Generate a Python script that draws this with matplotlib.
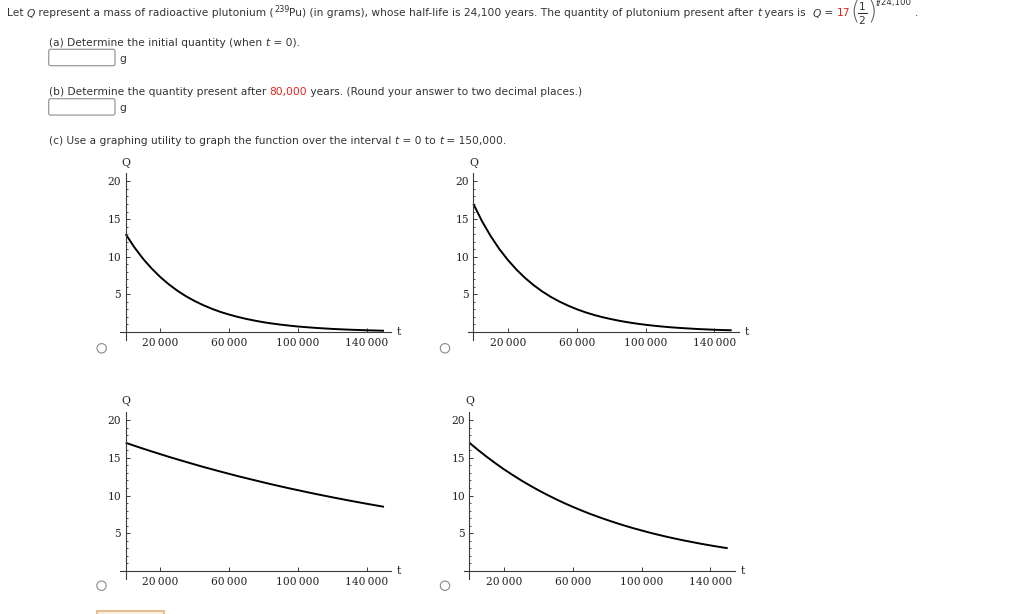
import matplotlib
matplotlib.use("Agg")
import matplotlib.pyplot as plt
from matplotlib.patches import Circle, FancyBboxPatch, Rectangle

# values
t_years = [0, 5000, 10000, 15000, 20000, 25000, 30000, 35000, 40000, 45000,
           50000, 55000, 60000, 65000, 70000, 75000, 80000, 85000, 90000, 95000,
           100000, 105000, 110000, 115000, 120000, 125000, 130000, 135000, 140000,
           145000, 150000]
q_choice_a = [13.0, 11.26, 9.75, 8.45, 7.32, 6.34, 5.49, 4.75, 4.12, 3.57,
              3.09, 2.67, 2.32, 2.01, 1.74, 1.51, 1.30, 1.13, 0.98, 0.85,
              0.73, 0.64, 0.55, 0.48, 0.41, 0.36, 0.31, 0.27, 0.23, 0.20, 0.17]
q_choice_b = [17.0, 14.72, 12.75, 11.04, 9.57, 8.29, 7.18, 6.22, 5.38, 4.66,
              4.04, 3.50, 3.03, 2.62, 2.27, 1.97, 1.71, 1.48, 1.28, 1.11,
              0.96, 0.83, 0.72, 0.62, 0.54, 0.47, 0.40, 0.35, 0.30, 0.26, 0.23]
q_choice_c = [17.0, 16.61, 16.23, 15.86, 15.50, 15.14, 14.80, 14.46, 14.13, 13.80,
              13.49, 13.18, 12.88, 12.58, 12.30, 12.02, 11.74, 11.47, 11.21, 10.95,
              10.71, 10.46, 10.22, 9.99, 9.76, 9.54, 9.32, 9.11, 8.90, 8.70, 8.50]
q_choice_d = [17.0, 16.05, 15.15, 14.30, 13.49, 12.74, 12.02, 11.35, 10.71, 10.11,
              9.54, 9.00, 8.50, 8.02, 7.57, 7.15, 6.75, 6.37, 6.01, 5.67,
              5.36, 5.05, 4.77, 4.50, 4.25, 4.01, 3.79, 3.57, 3.37, 3.18, 3.0]

x_ticks = [20000, 60000, 100000, 140000]
y_ticks = [5, 10, 15, 20]

TXT = "#333333"
RED = "#e2231a"
SIZE = 7.7

fig = plt.figure(figsize=(10.24, 6.14), dpi=100)
fig.patch.set_facecolor("white")

# page overlay in pixel coordinates
bg = fig.add_axes([0, 0, 1, 1], zorder=0)
bg.set_xlim(0, 1024)
bg.set_ylim(614, 0)
bg.axis("off")

renderer = fig.canvas.get_renderer()


def put_runs(x, y, parts, size=SIZE):
    for s, opts in parts:
        t = bg.text(x, y - opts.get("rise", 0), s, fontsize=opts.get("size", size),
                    color=opts.get("color", TXT), style=opts.get("style", "normal"),
                    ha="left", va="baseline", family="DejaVu Sans")
        x += t.get_window_extent(renderer).width
    return x


N = {}
I = {"style": "italic"}

x_end = put_runs(7, 16.5, [
    ("Let ", N), ("Q", I), (" represent a mass of radioactive plutonium (", N),
    ("239", {"size": 5.9, "rise": 4.5}),
    ("Pu) (in grams), whose half-life is 24,100 years. The quantity of plutonium present after ", N),
    ("t", I), (" years is  ", N), ("Q", I), (" = ", N), ("17", {"color": RED}),
])
# (1/2)^(t/24,100)
bg.text(x_end, 18.0, "(", fontsize=17, color="#555555", ha="left", va="baseline",
        family="DejaVu Sans", fontweight="light")
bg.text(x_end + 12, 10.5, "1", fontsize=SIZE, color=TXT, ha="center", va="baseline")
bg.plot([x_end + 7.5, x_end + 16.5], [12.5, 12.5], color=TXT, lw=0.8)
bg.text(x_end + 12, 23.8, "2", fontsize=SIZE, color=TXT, ha="center", va="baseline")
bg.text(x_end + 17.5, 18.0, ")", fontsize=17, color="#555555", ha="left", va="baseline",
        family="DejaVu Sans", fontweight="light")
put_runs(x_end + 25, 5.5, [("t", I), ("/24,100", N)], size=6.2)
bg.text(x_end + 65, 16.5, ".", fontsize=SIZE, color=TXT, ha="left", va="baseline")

put_runs(49, 45.5, [("(a) Determine the initial quantity (when ", N), ("t", I), (" = 0).", N)])
put_runs(49, 95, [("(b) Determine the quantity present after ", N), ("80,000", {"color": RED}),
                  (" years. (Round your answer to two decimal places.)", N)])
put_runs(49, 144, [("(c) Use a graphing utility to graph the function over the interval ", N),
                   ("t", I), (" = 0 to ", N), ("t", I), (" = 150,000.", N)])

for top in (49.3, 98.7):
    bg.add_patch(FancyBboxPatch((48.7, top), 66.3, 16.4, boxstyle="round,pad=0,rounding_size=2",
                                fc="white", ec="#9a9a9a", lw=0.9))
    bg.text(119.5, top + 12.5, "g", fontsize=SIZE, color=TXT, ha="left", va="baseline")

# radio buttons
for cx, cy in [(101.7, 348.3), (445.0, 348.3), (101.5, 585.7), (445.0, 585.7)]:
    bg.add_patch(Circle((cx, cy), 4.7, fc="white", ec="#8a8a8a", lw=0.8))

# partially visible button at the bottom edge
bg.add_patch(Rectangle((97.3, 611.3), 66.7, 20, fc="#f6efe6", ec="#e8b27c", lw=1.2))

# graphs
XLIM = (-3300, 154000)
YLIM = (-1.06, 21.1)
W, H = 270.9, 166.9
positions = [(120.0, 173.1), (467.7, 173.1), (120.0, 411.9), (463.7, 411.9)]
series = [q_choice_a, q_choice_b, q_choice_c, q_choice_d]
serif = "DejaVu Serif"
AX = "#3a3a3a"

for (left, top), q in zip(positions, series):
    ax = fig.add_axes([left / 1024, 1 - (top + H) / 614, W / 1024, H / 614], zorder=2)
    ax.patch.set_visible(False)
    ax.plot(t_years, q, color="black", lw=1.4, solid_capstyle="butt")
    ax.set_xlim(*XLIM)
    ax.set_ylim(*YLIM)
    for side in ("top", "right"):
        ax.spines[side].set_visible(False)
    for side in ("left", "bottom"):
        ax.spines[side].set_position(("data", 0))
        ax.spines[side].set_color(AX)
        ax.spines[side].set_linewidth(0.8)
    ax.set_xticks(x_ticks, [f"{v:,}".replace(",", "\u2009") for v in x_ticks])
    ax.set_yticks(y_ticks, [str(v) for v in y_ticks])
    ax.set_yticks([v for v in range(1, 21) if v % 5], minor=True)
    ax.tick_params(which="major", direction="in", length=3.2, width=0.7, color=AX,
                   labelsize=7.7, labelcolor="#222222")
    ax.tick_params(which="minor", direction="in", length=1.6, width=0.6, color=AX)
    ax.tick_params(axis="x", pad=4.3)
    ax.tick_params(axis="y", pad=3.2)
    for lab in ax.get_xticklabels() + ax.get_yticklabels():
        lab.set_family(serif)
    ax.annotate("Q", xy=(0, 1), xycoords=("data", "axes fraction"), xytext=(0, 4),
                textcoords="offset points", ha="center", va="bottom",
                fontsize=7.9, color="#222222", family=serif)
    ax.annotate("t", xy=(1, 0), xycoords=("axes fraction", "data"), xytext=(4.5, 0),
                textcoords="offset points", ha="left", va="center",
                fontsize=7.9, color="#222222", family=serif)

fig.savefig("out.png", dpi=100, facecolor="white")
